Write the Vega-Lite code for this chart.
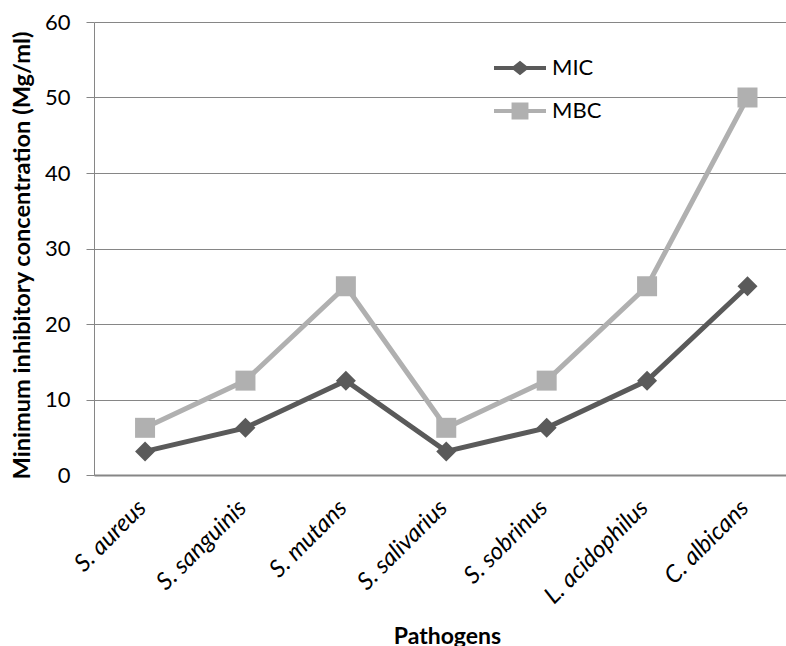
{
  "$schema": "https://vega.github.io/schema/vega-lite/v6.json",
  "width": 692,
  "height": 453,
  "autosize": {"type": "none"},
  "padding": {"left": 94, "top": 22, "right": 0, "bottom": 171},
  "background": "white",
  "config": {"view": {"stroke": null}, "font": "Lato"},
  "data": {
    "values": [
      {"pathogen": "S. aureus", "series": "MIC", "value": 3.125},
      {"pathogen": "S. sanguinis", "series": "MIC", "value": 6.25},
      {"pathogen": "S. mutans", "series": "MIC", "value": 12.5},
      {"pathogen": "S. salivarius", "series": "MIC", "value": 3.125},
      {"pathogen": "S. sobrinus", "series": "MIC", "value": 6.25},
      {"pathogen": "L. acidophilus", "series": "MIC", "value": 12.5},
      {"pathogen": "C. albicans", "series": "MIC", "value": 25},
      {"pathogen": "S. aureus", "series": "MBC", "value": 6.25},
      {"pathogen": "S. sanguinis", "series": "MBC", "value": 12.5},
      {"pathogen": "S. mutans", "series": "MBC", "value": 25},
      {"pathogen": "S. salivarius", "series": "MBC", "value": 6.25},
      {"pathogen": "S. sobrinus", "series": "MBC", "value": 12.5},
      {"pathogen": "L. acidophilus", "series": "MBC", "value": 25},
      {"pathogen": "C. albicans", "series": "MBC", "value": 50}
    ]
  },
  "encoding": {
    "x": {
      "field": "pathogen",
      "type": "nominal",
      "sort": null,
      "scale": {"type": "point", "padding": 0.446, "align": 0.57},
      "axis": {
        "title": "Pathogens",
        "titleFontSize": 23,
        "titleFontWeight": "bold",
        "titleColor": "black",
        "titlePadding": 17,
        "titleX": 353,
        "labelAngle": -45,
        "labelAlign": "right",
        "labelBaseline": "middle",
        "labelFontStyle": "italic",
        "labelFontSize": 24,
        "labelColor": "black",
        "labelPadding": 29,
        "labelOffset": -3,
        "ticks": false,
        "grid": false,
        "domainColor": "#868686",
        "domainWidth": 2
      }
    },
    "y": {
      "field": "value",
      "type": "quantitative",
      "scale": {"domain": [0, 60]},
      "axis": {
        "values": [0, 10, 20, 30, 40, 50, 60],
        "title": "Minimum inhibitory concentration (Mg/ml)",
        "titleFontSize": 23.6,
        "titleFontWeight": "bold",
        "titleColor": "black",
        "titlePadding": 10,
        "titleY": 233,
        "labelFontSize": 22,
        "labelColor": "black",
        "labelPadding": 16,
        "tickSize": 8,
        "tickColor": "#868686",
        "domainColor": "#868686",
        "grid": true,
        "gridColor": "#868686",
        "gridOpacity": 1
      }
    },
    "color": {
      "field": "series",
      "type": "nominal",
      "sort": ["MIC", "MBC"],
      "scale": {"domain": ["MIC", "MBC"], "range": ["#5a5a5a", "#b0b0b0"]},
      "legend": {
        "orient": "none",
        "legendX": 413,
        "legendY": 33,
        "title": null,
        "padding": 0,
        "labelFontSize": 22,
        "labelColor": "black",
        "symbolSize": 676,
        "rowPadding": 19,
        "labelOffset": 19,
        "encode": {
          "symbols": {
            "update": {
              "shape": {"signal": "datum.value === 'MIC' ? 'M-2,-0.15H2V0.15H-2Z M0,-0.55L0.7,0L0,0.55L-0.7,0Z' : 'M-2,-0.15H2V0.15H-2Z M-0.65,-0.65H0.65V0.65H-0.65Z'"},
              "fill": {"scale": "color", "field": "value"},
              "stroke": {"value": "transparent"},
              "strokeWidth": {"value": 0},
              "opacity": {"value": 1},
              "fillOpacity": {"value": 1}
            }
          }
        }
      }
    }
  },
  "layer": [
    {"mark": {"type": "line", "strokeWidth": 5}},
    {
      "mark": {"type": "point", "filled": true, "size": 400, "opacity": 1},
      "encoding": {
        "shape": {
          "condition": {"test": "datum.series === 'MIC'", "value": "diamond"},
          "value": "square"
        }
      }
    }
  ]
}
